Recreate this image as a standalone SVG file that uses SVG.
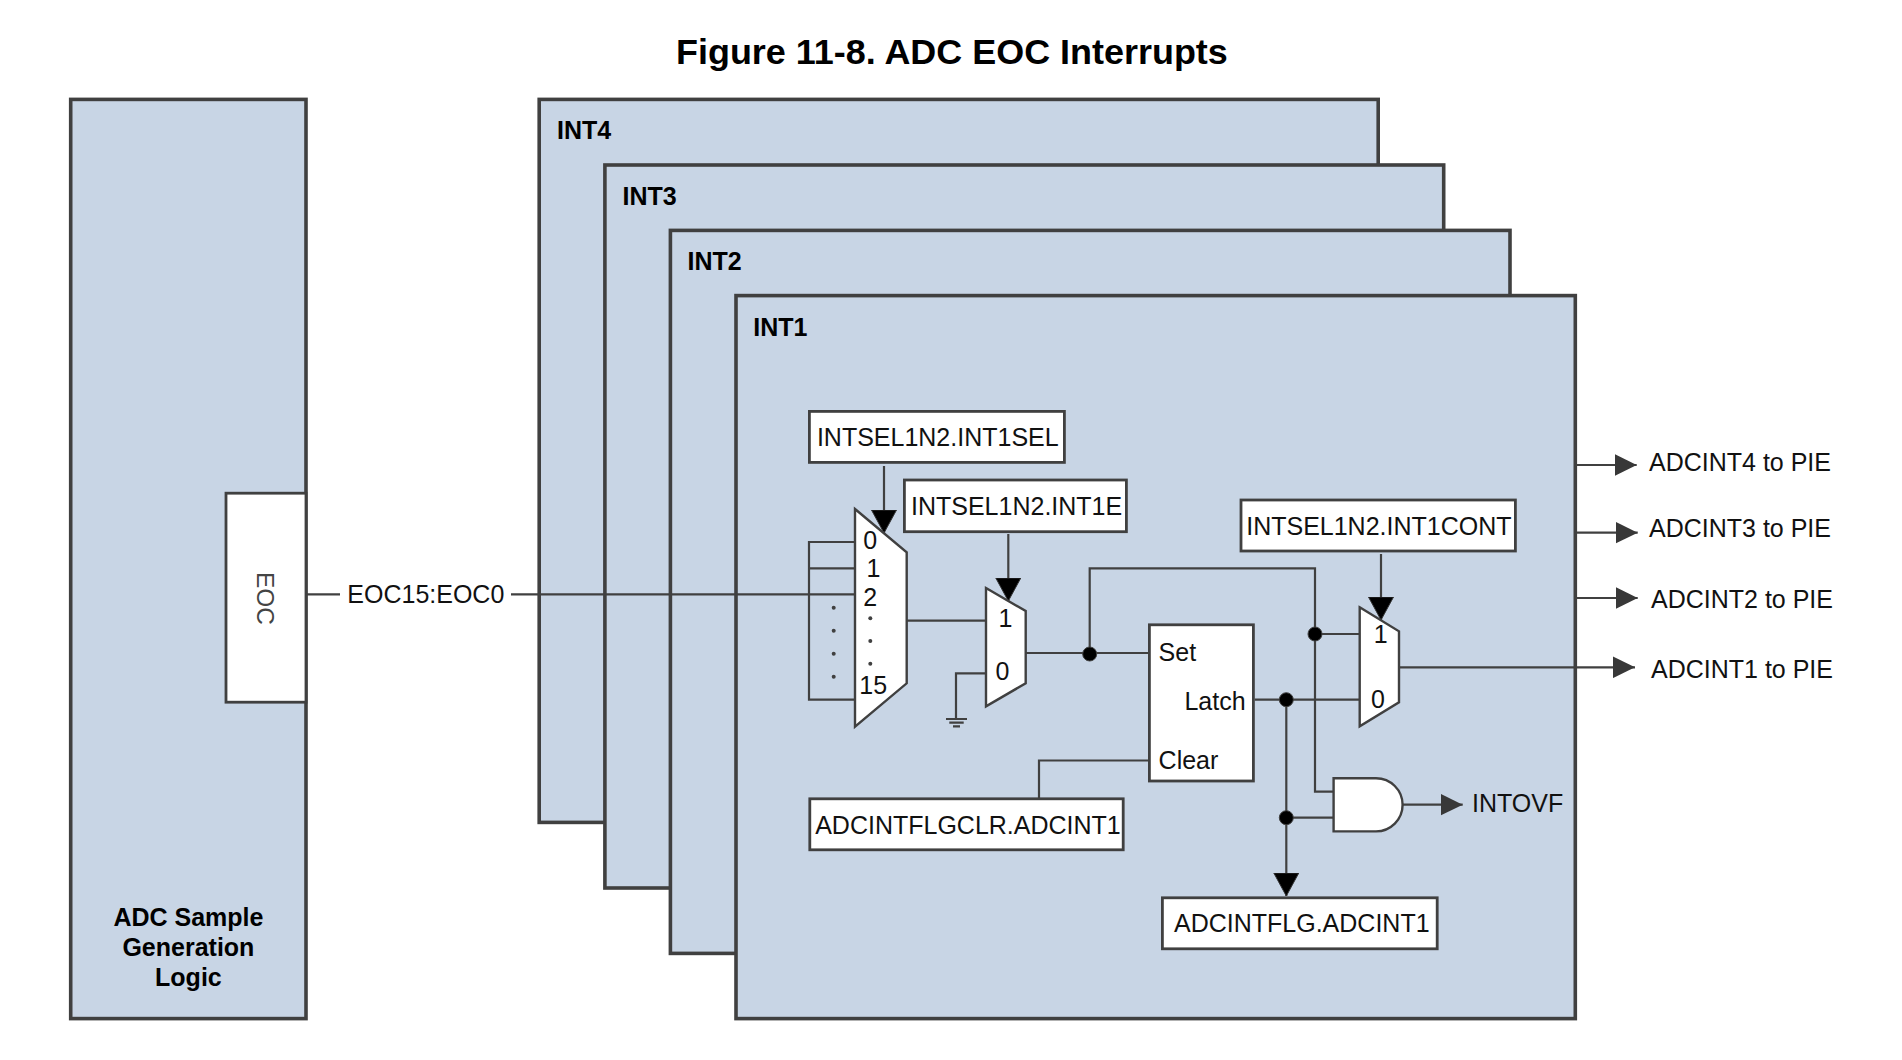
<svg xmlns="http://www.w3.org/2000/svg" width="1902" height="1060" viewBox="0 0 1902 1060">
<style>
text{font-family:"Liberation Sans",Arial,sans-serif;font-size:25px;fill:#111}
.b{font-weight:700;fill:#000}
.panel{fill:#c8d5e5;stroke:#404040;stroke-width:3.6}
.box{fill:#fff;stroke:#404040;stroke-width:2.8}
.shape{fill:#fff;stroke:#404040;stroke-width:2.4;stroke-linejoin:miter}
.w{fill:none;stroke:#404040;stroke-width:2.2}
.dn{marker-end:url(#ad)}
.rt{marker-end:url(#ar)}
.dot{fill:#000;stroke:#404040;stroke-width:1}
.sd{fill:#404040}
</style>
<defs>
<marker id="ad" markerUnits="userSpaceOnUse" markerWidth="24" markerHeight="26" refX="23.5" refY="13" orient="auto"><path d="M0.5 .5L23.5 13L.5 25.5Z" fill="#000" stroke="#333" stroke-width="1"/></marker>
<marker id="ar" markerUnits="userSpaceOnUse" markerWidth="22" markerHeight="22" refX="22" refY="11" orient="auto"><path d="M0 .2L22 11L0 21.8Z" fill="#383838"/></marker>
</defs>
<rect width="1902" height="1060" fill="#fff"/>
<text id="title" class="b" x="676" y="63.5" style="font-size:35.95px">Figure 11-8. ADC EOC Interrupts</text>

<g id="adc-logic">
<rect class="panel" x="70.7" y="99.4" width="235.3" height="919.2"/>
<rect class="box" x="226" y="493.2" width="80" height="209"/>
<text x="0" y="0" transform="translate(256.5 572) rotate(90)" style="font-size:24.4px;fill:#444">EOC</text>
<text class="b" x="188.4" y="926.4" text-anchor="middle">ADC Sample</text>
<text class="b" x="188.4" y="955.7" text-anchor="middle">Generation</text>
<text class="b" x="188.4" y="986" text-anchor="middle">Logic</text>
</g>
<g id="int4"><rect class="panel" x="539.2" y="99.4" width="839" height="723"/><text class="b" x="557" y="139">INT4</text></g>
<g id="int3"><rect class="panel" x="604.9" y="165" width="838.8" height="723"/><text class="b" x="622.6" y="204.8">INT3</text></g>
<g id="int2"><rect class="panel" x="670.4" y="230.4" width="839.6" height="723"/><text class="b" x="687.6" y="269.7">INT2</text></g>
<g id="int1"><rect class="panel" x="736" y="295.6" width="839.3" height="723"/><text class="b" x="753.2" y="335.6">INT1</text></g>

<g id="connectors">
<path class="w" d="M307 594.3H340M511 594.3H855"/>
<path class="w" d="M855 542H809V699.7H855M809 568.3H855"/>
<path class="w dn" d="M884 466V533"/>
<path class="w" d="M906.7 620.7H985.7"/>
<path class="w dn" d="M1008.3 534V601"/>
<path class="w" d="M986 673.3H956V718.5"/>
<path class="w" d="M946 719H967M949.3 722.7H963.7M953 726.3H960"/>
<path class="w" d="M1025.7 653H1148.3"/>
<path class="w" d="M1089.7 653V568.3H1315V791.7H1333"/>
<path class="w" d="M1315 634H1359.7"/>
<path class="w dn" d="M1381 554V620"/>
<path class="w" d="M1254.7 699.7H1359.7"/>
<path class="w dn" d="M1286.3 699.7V896"/>
<path class="w" d="M1286.3 817.7H1333"/>
<path class="w" d="M1148.3 760.5H1039V798"/>
<path class="w rt" d="M1399 667.3H1635"/>
<path class="w rt" d="M1402.3 804.7H1462.7"/>
<path class="w rt" d="M1577 465H1636.7"/>
<path class="w rt" d="M1577 532.7H1637.7"/>
<path class="w rt" d="M1577 598H1637.7"/>
<circle class="dot" cx="1089.7" cy="654" r="7"/>
<circle class="dot" cx="1315" cy="634" r="7"/>
<circle class="dot" cx="1286.3" cy="699.7" r="7"/>
<circle class="dot" cx="1286.3" cy="817.7" r="7"/>
<g class="sd"><circle cx="833.7" cy="607.7" r="2"/><circle cx="833.7" cy="630.7" r="2"/><circle cx="833.7" cy="653.7" r="2"/><circle cx="833.7" cy="676.7" r="2"/></g>
</g>

<g id="eoc-label"><text x="347.3" y="603">EOC15:EOC0</text></g>

<g id="mux-sel">
<polygon class="shape" points="855,509 906.7,552.3 906.7,683.3 855,726.7"/>
<text x="863.3" y="549">0</text><text x="866.6" y="576.7">1</text><text x="863.3" y="605.7">2</text><text x="859.3" y="694">15</text>
<g class="sd"><circle cx="870.3" cy="618.3" r="2"/><circle cx="870.3" cy="641" r="2"/><circle cx="870.3" cy="663.7" r="2"/></g>
</g>
<g id="mux-en">
<polygon class="shape" points="986,588 1025.7,611 1025.7,683.3 986,706.3"/>
<text x="998.4" y="626.7">1</text><text x="995.4" y="680">0</text>
</g>
<g id="mux-cont">
<polygon class="shape" points="1359.7,607.3 1399,631.3 1399,702.3 1359.7,726.3"/>
<text x="1373.7" y="642.7">1</text><text x="1371" y="708.4">0</text>
</g>
<g id="intsel-sel"><rect class="box" x="809.4" y="411.4" width="255" height="51"/><text x="816.9" y="445.7">INTSEL1N2.INT1SEL</text></g>
<g id="intsel-e"><rect class="box" x="904.4" y="480" width="222" height="51.7"/><text x="911" y="515">INTSEL1N2.INT1E</text></g>
<g id="intsel-cont"><rect class="box" x="1241" y="500" width="274.4" height="51"/><text x="1246.2" y="534.7">INTSEL1N2.INT1CONT</text></g>
<g id="latch">
<rect class="box" x="1149.4" y="624.8" width="104" height="156.2"/>
<text x="1158.6" y="660.6">Set</text><text x="1184.4" y="710">Latch</text><text x="1158.6" y="769.2">Clear</text>
</g>
<g id="flgclr"><rect class="box" x="809.8" y="798.8" width="313.4" height="51"/><text x="815.2" y="833.5">ADCINTFLGCLR.ADCINT1</text></g>
<g id="flg"><rect class="box" x="1162.4" y="897.8" width="274.8" height="51"/><text x="1174" y="931.7">ADCINTFLG.ADCINT1</text></g>
<g id="and-gate"><path class="shape" d="M1333.6 778.2H1376A26.6 26.6 0 0 1 1376 831.4H1333.6Z"/></g>
<g id="outputs">
<text x="1472" y="811.7">INTOVF</text>
<text x="1649" y="470.7">ADCINT4 to PIE</text>
<text x="1649" y="536.7">ADCINT3 to PIE</text>
<text x="1651" y="607.7">ADCINT2 to PIE</text>
<text x="1651" y="677.6">ADCINT1 to PIE</text>
</g>
</svg>
